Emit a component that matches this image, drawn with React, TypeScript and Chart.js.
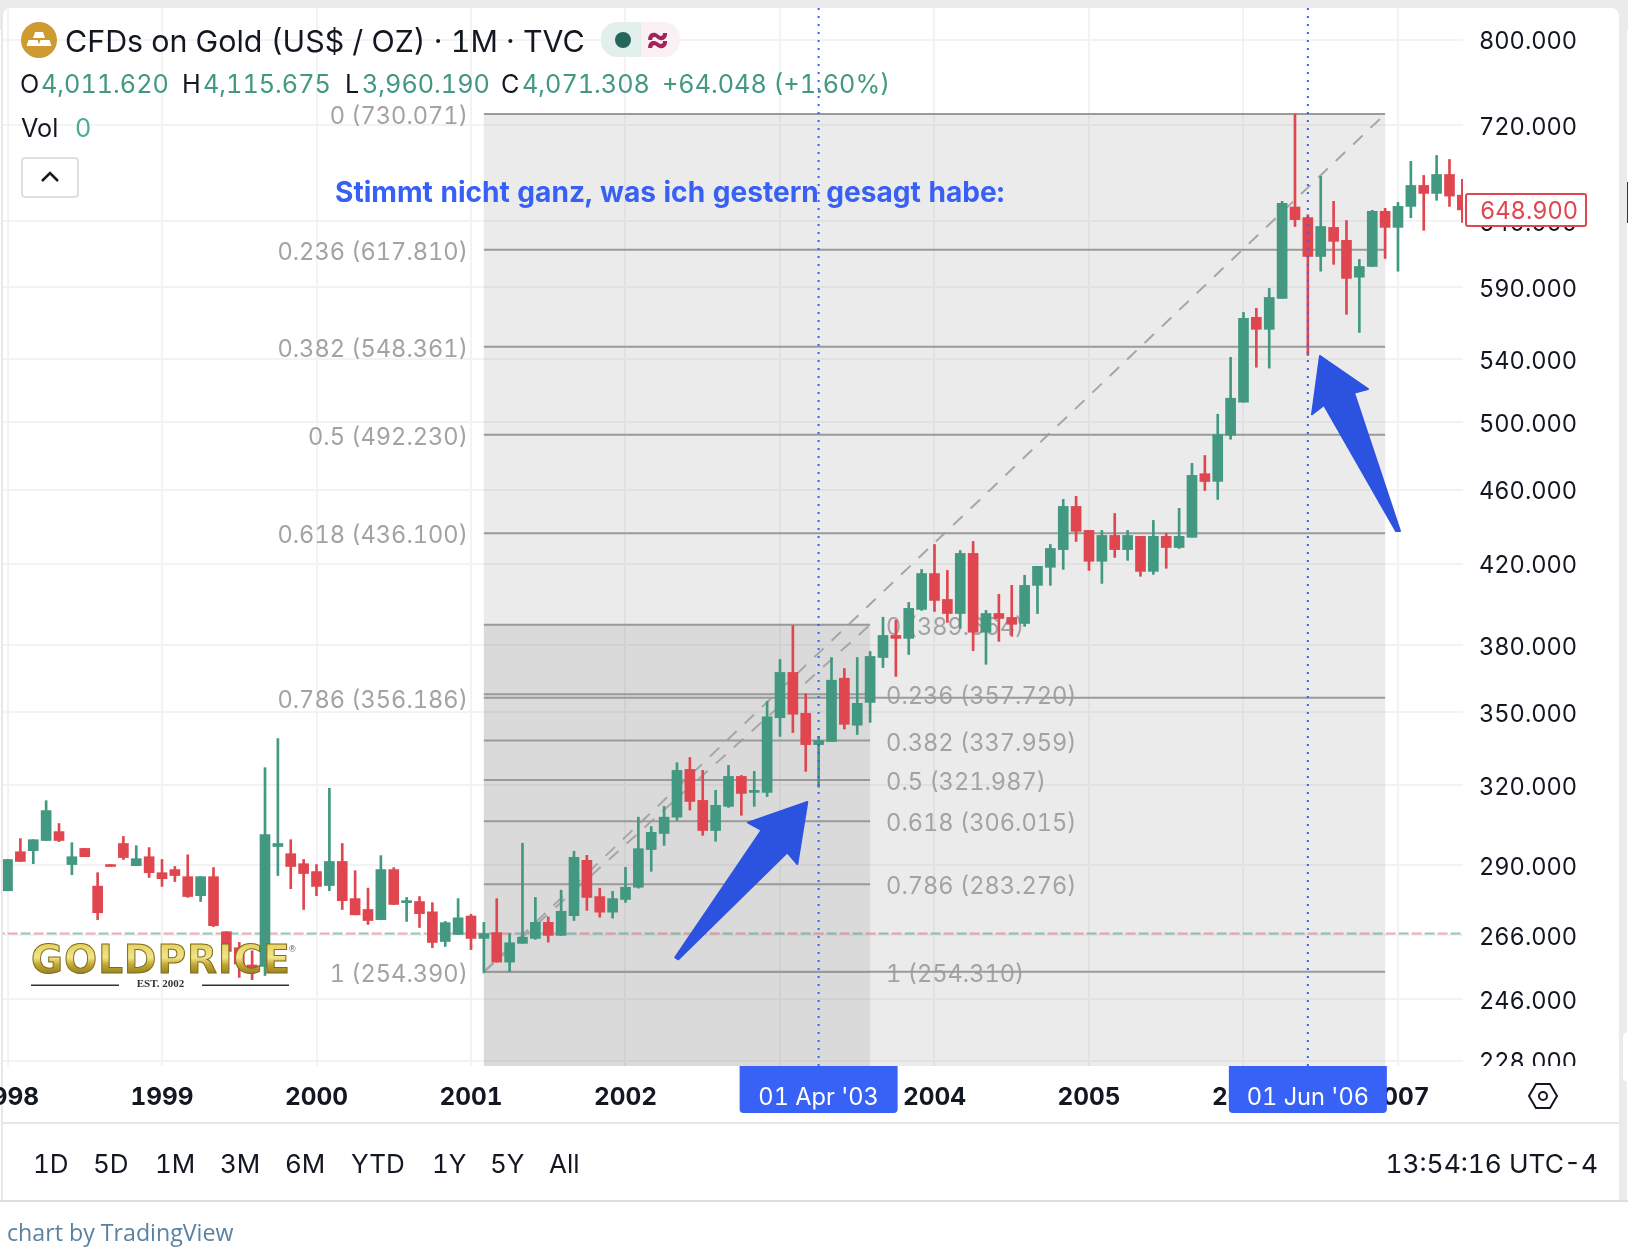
import React, { useEffect, useRef } from "react";
import { Chart, registerables } from "chart.js";
Chart.register(...registerables);

// Monthly candles, index 0 = Jan 1998
const opens = [281.0,294.8,295.2,298.9,302.2,290.2,296.0,282.6,290.2,297.8,289.8,293.0,287.3,288.4,285.9,279.3,285.9,267.2,262.0,256.5,256.0,296.7,294.1,290.5,287.7,282.8,291.3,278.3,274.6,271.2,288.4,276.9,277.3,273.8,264.0,266.3,272.4,265.0,266.9,257.4,263.4,265.0,270.3,266.0,272.5,291.7,279.0,273.7,278.0,282.2,295.6,301.5,307.6,326.2,314.0,302.6,311.7,323.4,317.1,317.1,347.6,367.5,349.5,336.3,337.6,364.9,344.4,354.2,374.3,384.6,383.2,397.1,415.0,402.0,395.1,425.4,386.1,395.1,393.2,390.3,409.0,418.2,427.4,450.7,437.6,421.3,434.9,427.4,434.4,416.1,434.4,428.5,433.9,469.2,464.8,491.9,512.3,568.6,560.3,582.0,651.2,642.8,612.8,635.1,625.1,597.4,605.3,647.8,635.1,651.7,668.7,662.2,677.8,660.8];
const highs = [292.0,299.6,299.2,313.9,305.2,298.1,296.0,287.3,290.2,300.4,297.0,296.3,292.0,289.5,293.7,285.9,289.1,267.2,263.7,261.0,326.9,338.8,299.2,292.0,290.2,318.7,297.8,288.0,281.9,293.4,289.1,278.7,279.0,276.9,270.6,278.3,273.0,270.3,278.3,266.6,297.9,278.7,272.1,281.2,295.0,293.5,281.9,280.8,289.2,307.6,304.1,311.7,328.9,331.0,325.8,317.9,327.8,323.8,325.4,354.6,373.4,389.3,358.0,339.7,374.3,369.3,374.3,377.1,393.3,391.8,400.5,417.1,430.1,416.6,426.9,431.7,396.6,404.5,409.0,414.1,418.7,430.1,454.6,456.3,437.6,437.6,446.8,437.6,434.4,443.0,436.0,449.6,475.2,479.8,504.8,541.3,572.1,575.0,589.2,655.8,730.07,645.1,676.2,655.8,640.5,610.6,648.6,650.2,654.9,688.8,677.0,693.8,690.4,673.7];
const lows = [281.0,291.3,290.5,298.9,298.5,286.6,293.0,271.2,289.5,292.0,289.8,285.6,282.5,284.2,278.7,277.3,268.9,259.0,252.6,251.9,253.2,286.3,281.7,274.6,279.3,281.0,274.6,272.8,269.6,271.2,276.3,270.6,268.6,262.0,262.4,266.3,261.4,254.0,257.4,254.4,263.4,264.7,263.8,266.0,270.9,274.3,272.0,271.7,277.0,281.9,287.8,297.1,306.4,310.3,300.8,298.6,311.3,308.3,311.7,315.5,339.7,341.3,325.4,319.1,337.6,342.8,340.5,345.6,369.7,365.7,375.7,396.6,396.1,390.8,388.0,377.5,371.2,381.8,384.2,388.9,395.1,409.0,417.1,431.7,416.6,410.0,423.3,421.8,413.6,414.6,417.7,428.0,433.9,459.6,454.6,489.5,512.3,534.8,534.2,582.0,635.8,542.6,601.8,606.9,570.7,558.2,605.3,611.3,601.8,642.7,632.8,656.6,651.7,639.0];
const closes = [292.0,291.3,299.2,310.1,298.9,293.0,293.0,273.5,289.5,292.7,292.3,287.3,285.2,286.3,279.0,285.9,269.2,260.8,256.8,255.0,301.1,297.8,289.5,287.0,282.5,291.3,277.6,272.8,270.9,288.4,276.3,277.6,273.2,263.7,270.2,271.8,265.0,266.6,257.4,263.6,265.4,270.3,266.0,274.0,292.8,278.7,273.7,278.3,282.2,295.9,301.9,307.6,325.8,313.6,302.6,312.1,323.4,316.7,317.9,348.0,367.5,349.1,336.3,338.0,364.0,344.8,353.8,374.8,384.6,383.2,397.6,415.0,401.5,395.1,425.4,386.1,395.1,392.7,389.9,409.0,418.7,428.0,450.7,437.1,421.3,434.9,427.4,434.9,416.1,434.4,428.5,434.4,468.2,464.7,492.3,514.8,567.9,560.3,582.7,654.2,641.2,612.8,635.8,624.3,596.5,605.3,647.8,635.1,651.7,668.7,662.2,677.8,660.0,648.9];

const priceTicks = [800, 720, 640, 590, 540, 500, 460, 420, 380, 350, 320, 290, 266, 246, 228];
const yearTickIndex = [0, 12, 24, 36, 48, 60, 72, 84, 96, 108];
const yearLabels = ["1998", "1999", "2000", "2001", "2002", "2003", "2004", "2005", "2006", "2007"];
const bigFibRatios = ["0", "0.236", "0.382", "0.5", "0.618", "0.786", "1"];
const bigFibPrices = [730.071, 617.81, 548.361, 492.23, 436.1, 356.186, 254.39];
const smallFibPrices = [389.664, 357.72, 337.959, 321.987, 306.015, 283.276, 254.31];
const bigFibFromTo = [37, 107];
const smallFibFromTo = [37, 67];
const referencePrice = 266.6;
const crosshairIndex = [63, 101];
const crosshairLabels = ["01 Apr '03", "01 Jun '06"];
const rangeButtons: [string, number][] = [["1D", 33], ["5D", 93], ["1M", 155], ["3M", 220], ["6M", 285], ["YTD", 351], ["1Y", 432], ["5Y", 490], ["All", 549]];

const GREEN = "#429881";
const RED = "#e0464f";
const FONT = "Inter, 'Liberation Sans', sans-serif";
const months = opens.map((_, i) => i);
const fmt = (n: number) => n.toFixed(3);

const arrowA = [[675.3, 957.3], [678.3, 959.3], [787.3, 852.3], [797.3, 864], [807.3, 802], [748, 822.7], [761.7, 830]];
const arrowB = [[1320, 356], [1368, 389], [1354, 392.7], [1400, 531], [1396, 531], [1324, 405], [1312, 414.3]];

const fibLine = (range: number[], p: number) => ({
  type: "line" as const,
  data: [{ x: range[0], y: p }, { x: range[1], y: p }],
  borderColor: "#9a9a9a",
  borderWidth: 2,
  pointRadius: 0,
  order: 6,
});

const annotations = {
  id: "annotations",
  beforeDatasetsDraw(chart: any) {
    const { ctx, scales, chartArea } = chart;
    const x = scales.x;
    const y = scales.y;
    ctx.save();
    ctx.fillStyle = "rgba(128,128,128,0.16)";
    const bx0 = x.getPixelForValue(bigFibFromTo[0]);
    const bx1 = x.getPixelForValue(bigFibFromTo[1]);
    const by0 = y.getPixelForValue(bigFibPrices[0]);
    ctx.fillRect(bx0, by0, bx1 - bx0, chartArea.bottom - by0);
    const sx1 = x.getPixelForValue(smallFibFromTo[1]);
    const sy0 = y.getPixelForValue(smallFibPrices[0]);
    ctx.fillRect(bx0, sy0, sx1 - bx0, chartArea.bottom - sy0);
    ctx.font = `23.6px ${FONT}`;
    ctx.fillStyle = "#a3a3a3";
    ctx.textBaseline = "middle";
    ctx.textAlign = "right";
    bigFibPrices.forEach((p, i) => {
      ctx.fillText(`${bigFibRatios[i]} (${fmt(p)})`, bx0 - 16, y.getPixelForValue(p) + 3);
    });
    ctx.textAlign = "left";
    smallFibPrices.forEach((p, i) => {
      ctx.fillText(`${bigFibRatios[i]} (${fmt(p)})`, sx1 + 16, y.getPixelForValue(p) + 3);
    });
    ctx.restore();
  },
  afterDraw(chart: any) {
    const { ctx, scales, chartArea } = chart;
    const x = scales.x;
    const y = scales.y;
    ctx.save();
    // crop of the lowest price label by the time axis
    ctx.fillStyle = "#ffffff";
    ctx.fillRect(chartArea.right + 1, chartArea.bottom, 150, 16);

    // logo
    ctx.save();
    const g = ctx.createLinearGradient(0, 945, 0, 973);
    g.addColorStop(0, "#e8d264");
    g.addColorStop(0.45, "#f1e58a");
    g.addColorStop(0.7, "#c4a733");
    g.addColorStop(1, "#9a8424");
    ctx.font = "bold 39px 'DejaVu Sans'";
    ctx.textBaseline = "alphabetic";
    ctx.textAlign = "left";
    (ctx as any).letterSpacing = "1px";
    ctx.fillStyle = g;
    ctx.strokeStyle = "#7d6c1c";
    ctx.lineWidth = 1;
    ctx.fillText("GOLDPRICE", 31, 973);
    ctx.strokeText("GOLDPRICE", 31, 973);
    (ctx as any).letterSpacing = "0px";
    ctx.font = "9px 'Liberation Sans'";
    ctx.fillStyle = "#555";
    ctx.fillText("®", 289, 952);
    ctx.fillStyle = "#333";
    ctx.fillRect(31, 984.5, 88, 1.5);
    ctx.fillRect(202, 984.5, 87, 1.5);
    ctx.font = "bold 11px 'Liberation Serif'";
    ctx.textAlign = "center";
    ctx.textBaseline = "middle";
    ctx.fillText("EST. 2002", 160.5, 984);
    ctx.restore();

    // note
    ctx.fillStyle = "#3860f5";
    ctx.font = `bold 28.1px ${FONT}`;
    ctx.textAlign = "left";
    ctx.textBaseline = "middle";
    ctx.fillText("Stimmt nicht ganz, was ich gestern gesagt habe:", 335, 193.5);

    // arrows
    ctx.fillStyle = "#2c52e0";
    ctx.strokeStyle = "#2c52e0";
    ctx.lineWidth = 2;
    ctx.lineJoin = "round";
    [arrowA, arrowB].forEach((a) => {
      ctx.beginPath();
      a.forEach(([px, py], i) => (i ? ctx.lineTo(px, py) : ctx.moveTo(px, py)));
      ctx.closePath();
      ctx.fill();
      ctx.stroke();
    });

    // crosshair markers
    crosshairIndex.forEach((k, i) => {
      const cx = x.getPixelForValue(k);
      ctx.strokeStyle = "#3a62fa";
      ctx.lineWidth = 2;
      ctx.setLineDash([2, 6]);
      ctx.beginPath();
      ctx.moveTo(cx, chartArea.top);
      ctx.lineTo(cx, chartArea.bottom);
      ctx.stroke();
      ctx.setLineDash([]);
      ctx.fillStyle = "#3861f6";
      ctx.beginPath();
      ctx.roundRect(cx - 79, chartArea.bottom, 158, 47, [0, 0, 4, 4]);
      ctx.fill();
      ctx.fillStyle = "#ffffff";
      ctx.font = `23.6px ${FONT}`;
      ctx.textAlign = "center";
      ctx.fillText(crosshairLabels[i], cx, chartArea.bottom + 32);
    });

    // last price tag
    const last = closes[closes.length - 1];
    const ly = y.getPixelForValue(last);
    ctx.fillStyle = "#ffffff";
    ctx.strokeStyle = RED;
    ctx.lineWidth = 2;
    ctx.beginPath();
    ctx.roundRect(chartArea.right + 3, ly - 16, 120, 32, 2);
    ctx.fill();
    ctx.stroke();
    ctx.fillStyle = RED;
    ctx.font = `23.6px ${FONT}`;
    ctx.textAlign = "left";
    ctx.fillText(fmt(last), chartArea.right + 17, ly + 2);
    ctx.restore();
  },
};

const Txt = ({ x, y, size, color = "#131722", weight = 400, right, family = FONT, children }: any) => (
  <div
    style={{
      position: "absolute",
      left: right === undefined ? x : undefined,
      right: right === undefined ? undefined : 1628 - right,
      top: y,
      transform: "translateY(-50%)",
      fontSize: size,
      color,
      fontWeight: weight,
      fontFamily: family,
      whiteSpace: "nowrap",
      lineHeight: 1.2,
      fontVariantNumeric: "tabular-nums",
    }}
  >
    {children}
  </div>
);

export default function App() {
  const ref = useRef<HTMLCanvasElement>(null);
  useEffect(() => {
    document.body.style.margin = "0";
    const colors = months.map((i) => (closes[i] >= opens[i] ? GREEN : RED));
    const chart = new Chart(ref.current as HTMLCanvasElement, {
      type: "bar",
      data: {
        datasets: [
          {
            data: months.map((i) => ({ x: i, y: [Math.min(opens[i], closes[i]), Math.max(opens[i], closes[i])] })),
            backgroundColor: colors,
            barThickness: 10,
            grouped: false,
            borderWidth: 0,
            order: 1,
          },
          {
            data: months.map((i) => ({ x: i, y: [lows[i], highs[i]] })),
            backgroundColor: colors,
            barThickness: 2,
            grouped: false,
            borderWidth: 0,
            order: 2,
          },
          {
            type: "line",
            data: [{ x: -1, y: referencePrice }, { x: 114, y: referencePrice }],
            borderColor: "rgba(66,152,129,0.55)",
            borderWidth: 2,
            borderDash: [10, 16],
            pointRadius: 0,
            order: 5,
          },
          {
            type: "line",
            data: [{ x: -1, y: referencePrice }, { x: 114, y: referencePrice }],
            borderColor: "rgba(224,70,79,0.45)",
            borderWidth: 2,
            borderDash: [10, 16],
            borderDashOffset: 13,
            pointRadius: 0,
            order: 5,
          },
          ...bigFibPrices.map((p) => fibLine(bigFibFromTo, p)),
          ...smallFibPrices.map((p) => fibLine(smallFibFromTo, p)),
          {
            type: "line",
            data: [{ x: bigFibFromTo[0], y: bigFibPrices[6] }, { x: bigFibFromTo[1], y: bigFibPrices[0] }],
            borderColor: "#a6a6a6",
            borderWidth: 2,
            borderDash: [13, 11],
            pointRadius: 0,
            order: 6,
          },
          {
            type: "line",
            data: [{ x: smallFibFromTo[0], y: smallFibPrices[6] }, { x: smallFibFromTo[1], y: smallFibPrices[0] }],
            borderColor: "#a6a6a6",
            borderWidth: 2,
            borderDash: [13, 11],
            pointRadius: 0,
            order: 6,
          },
        ] as any,
      },
      options: {
        animation: false,
        responsive: false,
        devicePixelRatio: 1,
        layout: { padding: { left: 3, top: 8, right: 0, bottom: 0 } },
        plugins: { legend: { display: false }, tooltip: { enabled: false } },
        scales: {
          x: {
            type: "linear",
            min: -0.35,
            max: 113.05,
            bounds: "data",
            offset: false,
            grid: { color: "#f3f3f3", lineWidth: 2, drawTicks: false, offset: false },
            border: { display: false },
            afterBuildTicks: (s: any) => {
              s.ticks = yearTickIndex.map((value) => ({ value }));
            },
            afterFit: (s: any) => {
              s.height = 188;
              s.paddingLeft = 0;
              s.paddingRight = 0;
            },
            ticks: {
              autoSkip: false,
              maxRotation: 0,
              minRotation: 0,
              padding: 17,
              color: "#131722",
              font: { family: FONT, size: 24.4, weight: "bold" },
              callback: (_v: any, i: number) => yearLabels[i],
            },
          },
          y: {
            type: "logarithmic",
            position: "right",
            min: 226.54,
            max: 831.7,
            bounds: "data",
            grid: { color: "#f3f3f3", lineWidth: 2, drawTicks: false },
            border: { display: false },
            afterBuildTicks: (s: any) => {
              s.ticks = priceTicks.map((value) => ({ value }));
            },
            afterFit: (s: any) => {
              s.width = 165;
              s.paddingTop = 0;
              s.paddingBottom = 0;
            },
            ticks: {
              autoSkip: false,
              padding: 16,
              labelOffset: 2.5,
              color: "#131722",
              font: { family: FONT, size: 23.6 },
              callback: (v: any) => Number(v).toFixed(3),
            },
          },
        },
      } as any,
      plugins: [annotations],
    });
    return () => chart.destroy();
  }, []);

  const G = "#429881";
  return (
    <div style={{ position: "absolute", left: 0, top: 0, width: 1628, height: 1254, overflow: "hidden", background: "#fff" }}>
      <div style={{ position: "absolute", left: 0, top: 0, width: 1628, height: 30, background: "#ebebeb" }} />
      <div style={{ position: "absolute", left: 1619, top: 0, width: 8, height: 1200, background: "#ebebeb" }} />
      <div style={{ position: "absolute", left: 1627, top: 182, width: 1, height: 41, background: "#333" }} />
      <div style={{ position: "absolute", left: 1623, top: 1032, width: 5, height: 50, background: "#fff", borderRadius: "6px 0 0 6px" }} />
      <div
        style={{
          position: "absolute",
          left: 1,
          top: 8,
          width: 1618,
          height: 1192,
          background: "#fff",
          borderLeft: "2px solid #e8e8e8",
          borderTopLeftRadius: 8,
          borderTopRightRadius: 8,
          boxSizing: "border-box",
        }}
      />
      <div style={{ position: "absolute", left: 0, top: 1200, width: 1628, height: 2, background: "#dedede" }} />
      <canvas
        ref={ref}
        width={1628}
        height={1254}
        style={{ position: "absolute", left: 0, top: 0, width: 1628, height: 1254, display: "block", fontFeatureSettings: '"tnum"', fontVariantNumeric: "tabular-nums" }}
      />

      <svg width={40} height={40} style={{ position: "absolute", left: 19, top: 20 }} viewBox="0 0 40 40">
        <circle cx={20} cy={20} r={18} fill="#cd9b2f" />
        <path d="M16 11h8l2 6H14zM9.5 19h9l2 6h-13zM21.500 19h9l2 6h-13z" fill="#fff" transform="translate(0,1)" />
      </svg>
      <Txt x={65} y={41} size={30.4}>CFDs on Gold (US$ / OZ) · 1M · TVC</Txt>
      <div style={{ position: "absolute", left: 601, top: 22, width: 40, height: 35, background: "#e3efec", borderRadius: "16px 0 0 16px" }} />
      <div style={{ position: "absolute", left: 641, top: 22, width: 39, height: 35, background: "#fbf1f5", borderRadius: "0 16px 16px 0" }} />
      <div style={{ position: "absolute", left: 615, top: 32, width: 16, height: 16, background: "#24665a", borderRadius: 8 }} />
      <Txt x={646} y={39} size={36} color="#a3235a" weight={700}>≈</Txt>

      <Txt x={20} y={84} size={25.2}>O</Txt>
      <Txt x={41} y={84} size={25.2} color={G}>4,011.620</Txt>
      <Txt x={182} y={84} size={25.2}>H</Txt>
      <Txt x={203} y={84} size={25.2} color={G}>4,115.675</Txt>
      <Txt x={345} y={84} size={25.2}>L</Txt>
      <Txt x={362} y={84} size={25.2} color={G}>3,960.190</Txt>
      <Txt x={501} y={84} size={25.2}>C</Txt>
      <Txt x={522} y={84} size={25.2} color={G}>4,071.308</Txt>
      <Txt x={662} y={84} size={25.2} color={G}>+64.048 (+1.60%)</Txt>
      <Txt x={21} y={128} size={25.2}>Vol</Txt>
      <Txt x={75} y={128} size={25.2} color="#4fa89c">0</Txt>
      <div style={{ position: "absolute", left: 21, top: 157, width: 54, height: 37, background: "#fff", border: "2px solid #e0e0e0", borderRadius: 4 }} />
      <svg width={20} height={14} style={{ position: "absolute", left: 40, top: 170 }}>
        <path d="M2 11 L10 3 L18 11" fill="none" stroke="#131722" strokeWidth={2.5} />
      </svg>

      <svg width={32} height={30} style={{ position: "absolute", left: 1527, top: 1081 }}>
        <path d="M9 3h14l7 12-7 12H9L2 15z" fill="none" stroke="#131722" strokeWidth={2} />
        <circle cx={16} cy={15} r={4} fill="none" stroke="#131722" strokeWidth={2} />
      </svg>

      <div style={{ position: "absolute", left: 2, top: 1122, width: 1617, height: 2, background: "#e6e6e6" }} />
      {rangeButtons.map(([t, x]) => (
        <Txt key={t} x={x} y={1164} size={26}>{t}</Txt>
      ))}
      <Txt right={1598} y={1164} size={26.3}>13:54:16 UTC-4</Txt>
      <Txt x={7} y={1233} size={23.2} color="#5a82a0" family="'Open Sans', sans-serif">chart by TradingView</Txt>
    </div>
  );
}
